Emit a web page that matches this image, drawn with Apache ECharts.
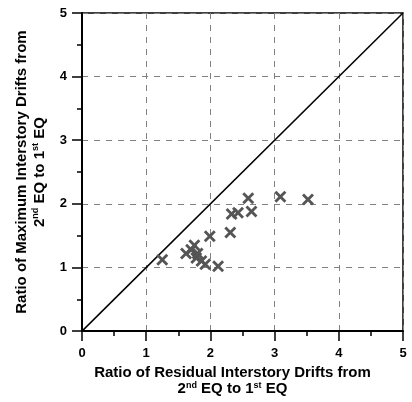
<!DOCTYPE html>
<html><head><meta charset="utf-8">
<script src="https://cdn.jsdelivr.net/npm/echarts@6/dist/echarts.min.js"></script>
<style>html,body{margin:0;padding:0;background:#fff}#c{width:412px;height:402px}</style>
</head><body><div id="c"></div>
<script>
var residualRatio = [1.25, 1.62, 1.70, 1.75, 1.80, 1.78, 1.86, 1.92, 1.99, 2.12, 2.31, 2.33, 2.43, 2.64, 2.59, 3.09, 3.52];
var maxDriftRatio = [1.12, 1.22, 1.28, 1.35, 1.22, 1.15, 1.10, 1.05, 1.49, 1.02, 1.55, 1.84, 1.86, 1.88, 2.09, 2.11, 2.07];
var diagonalX = [0, 5];
var diagonalY = [0, 5];
var tickValues = [0, 1, 2, 3, 4, 5];

var pts = residualRatio.map(function (x, i) { return [x, maxDriftRatio[i]]; });
var diag = diagonalX.map(function (x, i) { return [x, diagonalY[i]]; });
var xMark = 'path://M0,2L2,0L6,4L10,0L12,2L8,6L12,10L10,12L6,8L2,12L0,10L4,6Z';
var font = 'Liberation Sans';
var rich = {
  t: { fontFamily: font, fontWeight: 700, fontSize: 15, color: '#000' },
  s: { fontFamily: font, fontWeight: 700, fontSize: 9, color: '#000', verticalAlign: 'top', padding: [0, 0, 7, 0] }
};
var ch = echarts.init(document.getElementById('c'));
ch.setOption({
  animation: false,
  textStyle: { fontFamily: font, fontWeight: 700 },
  grid: { left: 82, right: 9, top: 13, bottom: 68, show: true, borderColor: '#000', borderWidth: 1.5 },
  xAxis: {
    type: 'value', min: 0, max: 5, interval: 1,
    name: '{t|Ratio of Residual Interstory Drifts from}\n{t|2}{s|nd}{t| EQ to 1}{s|st}{t| EQ}',
    nameLocation: 'middle', nameGap: 30,
    nameTextStyle: { rich: rich, fontWeight: 700, fontSize: 15, lineHeight: 16, align: 'center', padding: [0, 20, 0, 0] },
    axisLine: { lineStyle: { color: '#000', width: 2 } },
    axisTick: { length: 10, lineStyle: { color: '#000', width: 1.5 } },
    minorTick: { show: true, splitNumber: 2, length: 5, lineStyle: { color: '#000', width: 1.5 } },
    axisLabel: { margin: 16, fontFamily: font, fontWeight: 700, fontSize: 13, color: '#000',
      formatter: function (v) { return tickValues.indexOf(v) >= 0 ? String(v) : ''; } },
    splitLine: { show: true, lineStyle: { color: '#808080', type: [6, 6], width: 1 } }
  },
  yAxis: {
    type: 'value', min: 0, max: 5, interval: 1,
    name: '{t|Ratio of Maximum Interstory Drifts from}\n{t|2}{s|nd}{t| EQ to 1}{s|st}{t| EQ}',
    nameLocation: 'middle', nameGap: 32, nameRotate: 90,
    nameTextStyle: { rich: rich, fontWeight: 700, fontSize: 15, lineHeight: 18, align: 'center' },
    axisLine: { lineStyle: { color: '#000', width: 2 } },
    axisTick: { length: 10, lineStyle: { color: '#000', width: 1.5 } },
    minorTick: { show: true, splitNumber: 2, length: 5, lineStyle: { color: '#000', width: 1.5 } },
    axisLabel: { margin: 15, fontFamily: font, fontWeight: 700, fontSize: 13, color: '#000' },
    splitLine: { show: true, lineStyle: { color: '#808080', type: [6, 6], width: 1 } }
  },
  series: [
    { type: 'line', data: diag, symbol: 'none', lineStyle: { color: '#000', width: 1.5 }, z: 3 },
    { type: 'scatter', data: pts, symbol: xMark, symbolSize: 12, itemStyle: { color: '#555', opacity: 1 }, z: 4 }
  ]
});
</script></body></html>
